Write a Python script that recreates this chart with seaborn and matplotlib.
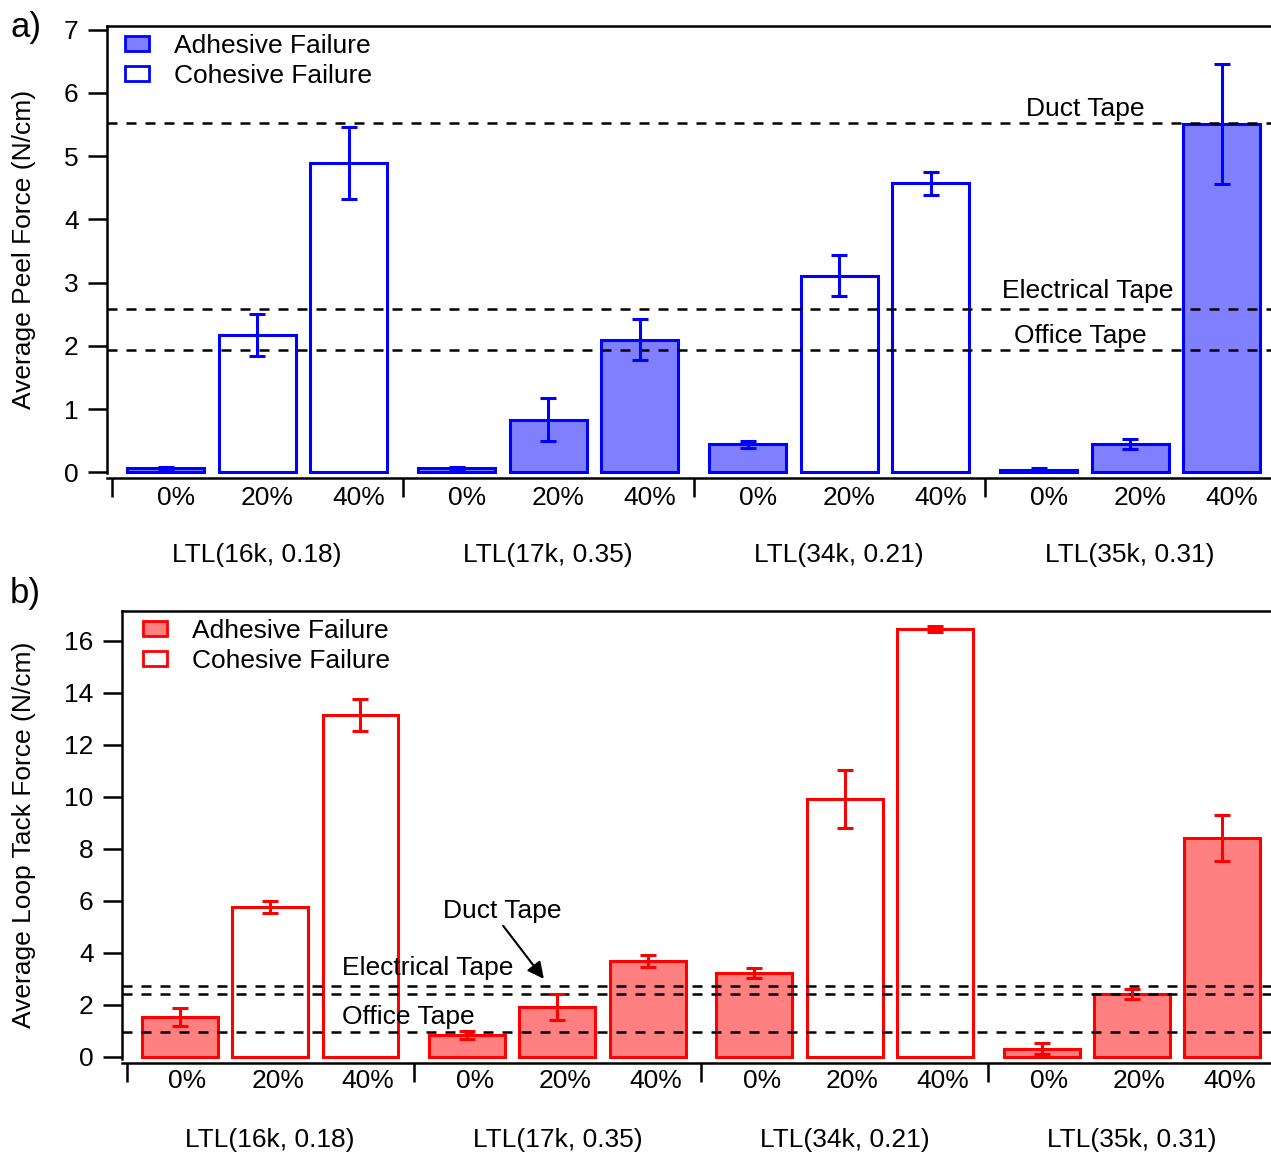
import matplotlib
matplotlib.use("Agg")
import matplotlib.pyplot as plt
import seaborn as sns
import pandas as pd
from matplotlib.patches import Patch
from matplotlib.ticker import FixedLocator, NullFormatter

# ---------------- data ----------------
groups = ["LTL(16k, 0.18)", "LTL(17k, 0.35)", "LTL(34k, 0.21)", "LTL(35k, 0.31)"]
fractions = ["0%", "20%", "40%"]

peel_mean = [0.06, 2.17, 4.89, 0.06, 0.83, 2.10, 0.44, 3.11, 4.57, 0.04, 0.44, 5.51]
peel_err = [0.03, 0.33, 0.57, 0.03, 0.34, 0.33, 0.06, 0.32, 0.18, 0.03, 0.08, 0.95]
peel_failure = ["Adhesive Failure", "Cohesive Failure", "Cohesive Failure",
                "Adhesive Failure", "Adhesive Failure", "Adhesive Failure",
                "Adhesive Failure", "Cohesive Failure", "Cohesive Failure",
                "Adhesive Failure", "Adhesive Failure", "Adhesive Failure"]

tack_mean = [1.54, 5.75, 13.15, 0.83, 1.92, 3.69, 3.23, 9.92, 16.45, 0.32, 2.41, 8.42]
tack_err = [0.35, 0.23, 0.62, 0.15, 0.50, 0.22, 0.20, 1.10, 0.12, 0.20, 0.20, 0.90]
tack_failure = ["Adhesive Failure", "Cohesive Failure", "Cohesive Failure",
                "Adhesive Failure", "Adhesive Failure", "Adhesive Failure",
                "Adhesive Failure", "Cohesive Failure", "Cohesive Failure",
                "Adhesive Failure", "Adhesive Failure", "Adhesive Failure"]

tape_names = ["Duct Tape", "Electrical Tape", "Office Tape"]
peel_tape = [5.52, 2.58, 1.94]
tack_tape = [2.74, 2.43, 0.97]

# ---------------- style ----------------
sns.set_theme(style="white")
plt.rcParams['font.family'] = ['Liberation Sans', 'DejaVu Sans']
plt.rcParams['text.color'] = 'black'
plt.rcParams['axes.labelcolor'] = 'black'
plt.rcParams['xtick.color'] = 'black'
plt.rcParams['ytick.color'] = 'black'
FS = 19
LW = 1.8
GROUP_STEP = 3.18

W, H = 1271, 1153
fig = plt.figure(figsize=(W / 100, H / 100), dpi=100)


def px_axes(left, top, right, bottom):
    return fig.add_axes([left / W, 1 - bottom / H, (right - left) / W, (bottom - top) / H])


def panel(ax, mean, err, failure, edge, fill, ylim, yticks, tape_vals, legend_anchor,
          lab_shift, lab_drop):
    pos = [g * GROUP_STEP + i for g in range(len(groups)) for i in range(len(fractions))]
    df = pd.DataFrame({"pos": pos, "value": mean, "err": err, "failure": failure})
    sns.barplot(data=df, x="pos", y="value", hue="failure",
                hue_order=["Adhesive Failure", "Cohesive Failure"],
                palette={"Adhesive Failure": fill, "Cohesive Failure": "white"},
                native_scale=True, dodge=False, width=0.84, saturation=1,
                edgecolor=edge, linewidth=2.2, errorbar=None, legend=False, ax=ax)
    ax.errorbar(df["pos"], df["value"], yerr=df["err"], fmt="none", ecolor=edge,
                elinewidth=2.2, capsize=5.5, capthick=2.2, zorder=5)
    for v in tape_vals:
        ax.axhline(v, color="black", lw=LW, dashes=(4, 3.6), zorder=4)

    ax.set_xlim(-0.64, 12.08)
    ax.set_ylim(*ylim)
    ax.set_yticks(yticks)
    ax.set_yticklabels([str(t) for t in yticks])
    seps = [g * GROUP_STEP - (GROUP_STEP - 2) / 2 for g in range(len(groups))]
    ax.set_xticks(seps)
    ax.xaxis.set_major_formatter(NullFormatter())
    ax.tick_params(axis="x", which="major", length=14, width=LW, direction="out",
                   bottom=True, color="black")
    ax.tick_params(axis="y", which="major", length=13.5, width=LW, direction="out",
                   left=True, pad=7, labelsize=FS, colors="black")
    ax.set_xlabel("")
    ax.set_ylabel("")
    for side in ["left", "top", "bottom"]:
        ax.spines[side].set_visible(True)
        ax.spines[side].set_color("black")
        ax.spines[side].set_linewidth(LW)
    ax.spines["right"].set_visible(False)
    ax.spines["bottom"].set_position(("outward", 3))
    ax.grid(False)

    for p, frac in zip(pos, fractions * len(groups)):
        ax.annotate(frac, xy=(p, 0), xycoords=("data", "axes fraction"),
                    xytext=(lab_shift, -lab_drop), textcoords="offset points",
                    ha="center", va="center", fontsize=FS, color="black")
    for g, name in enumerate(groups):
        ax.annotate(name, xy=(g * GROUP_STEP + 1, 0), xycoords=("data", "axes fraction"),
                    xytext=(0, -58.5), textcoords="offset points",
                    ha="center", va="center", fontsize=FS, color="black")

    handles = [Patch(facecolor=fill, edgecolor=edge, lw=2, label="Adhesive Failure"),
               Patch(facecolor="white", edgecolor=edge, lw=2, label="Cohesive Failure")]
    leg = ax.legend(handles=handles, loc="upper left", bbox_to_anchor=legend_anchor,
                    frameon=False, fontsize=FS, handlelength=0.9, handleheight=0.5,
                    handletextpad=0.95, labelspacing=0.22, borderaxespad=0, borderpad=0)
    for t in leg.get_texts():
        t.set_color("black")


# ---------------- panel a ----------------
ax1 = px_axes(107, 26, W, 473.5)
panel(ax1, peel_mean, peel_err, peel_failure, "#0000ff", "#8080ff",
      (-0.02, 7.06), list(range(0, 8)), peel_tape, (0.0155, 0.982), 7.5, 17.5)
ax1.set_ylabel("Average Peel Force (N/cm)", fontsize=FS, color="black")
ax1.yaxis.set_label_coords(-0.061, 0.5)
ax1.text(10.05, 5.63, tape_names[0], ha="center", va="baseline", fontsize=FS, zorder=6)
ax1.text(10.08, 2.75, tape_names[1], ha="center", va="baseline", fontsize=FS, zorder=6)
ax1.text(10.00, 2.05, tape_names[2], ha="center", va="baseline", fontsize=FS, zorder=6)

# ---------------- panel b ----------------
ax2 = px_axes(122, 611, W, 1059)
panel(ax2, tack_mean, tack_err, tack_failure, "#ff0000", "#ff8080",
      (-0.08, 17.15), list(range(0, 17, 2)), tack_tape, (0.0183, 0.982), 5.5, 16)
ax2.set_ylabel("Average Loop Tack Force (N/cm)", fontsize=FS, color="black")
ax2.yaxis.set_label_coords(-0.075, 0.5)
ax2.text(3.57, 5.35, tape_names[0], ha="center", va="baseline", fontsize=FS, zorder=6)
ax2.text(2.74, 3.15, tape_names[1], ha="center", va="baseline", fontsize=FS, zorder=6)
ax2.text(2.53, 1.27, tape_names[2], ha="center", va="baseline", fontsize=FS, zorder=6)
ax2.annotate("", xy=(4.03, 3.0), xytext=(3.58, 5.04),
             arrowprops=dict(arrowstyle="-|>", color="black", lw=1.5,
                             mutation_scale=25, shrinkA=0, shrinkB=0), zorder=6)

fig.text(10 / W, 1 - 28 / H, "a)", fontsize=25, ha="left", va="center", color="black")
fig.text(10 / W, 1 - 593 / H, "b)", fontsize=25, ha="left", va="center", color="black")

fig.savefig("out.png", dpi=100)
